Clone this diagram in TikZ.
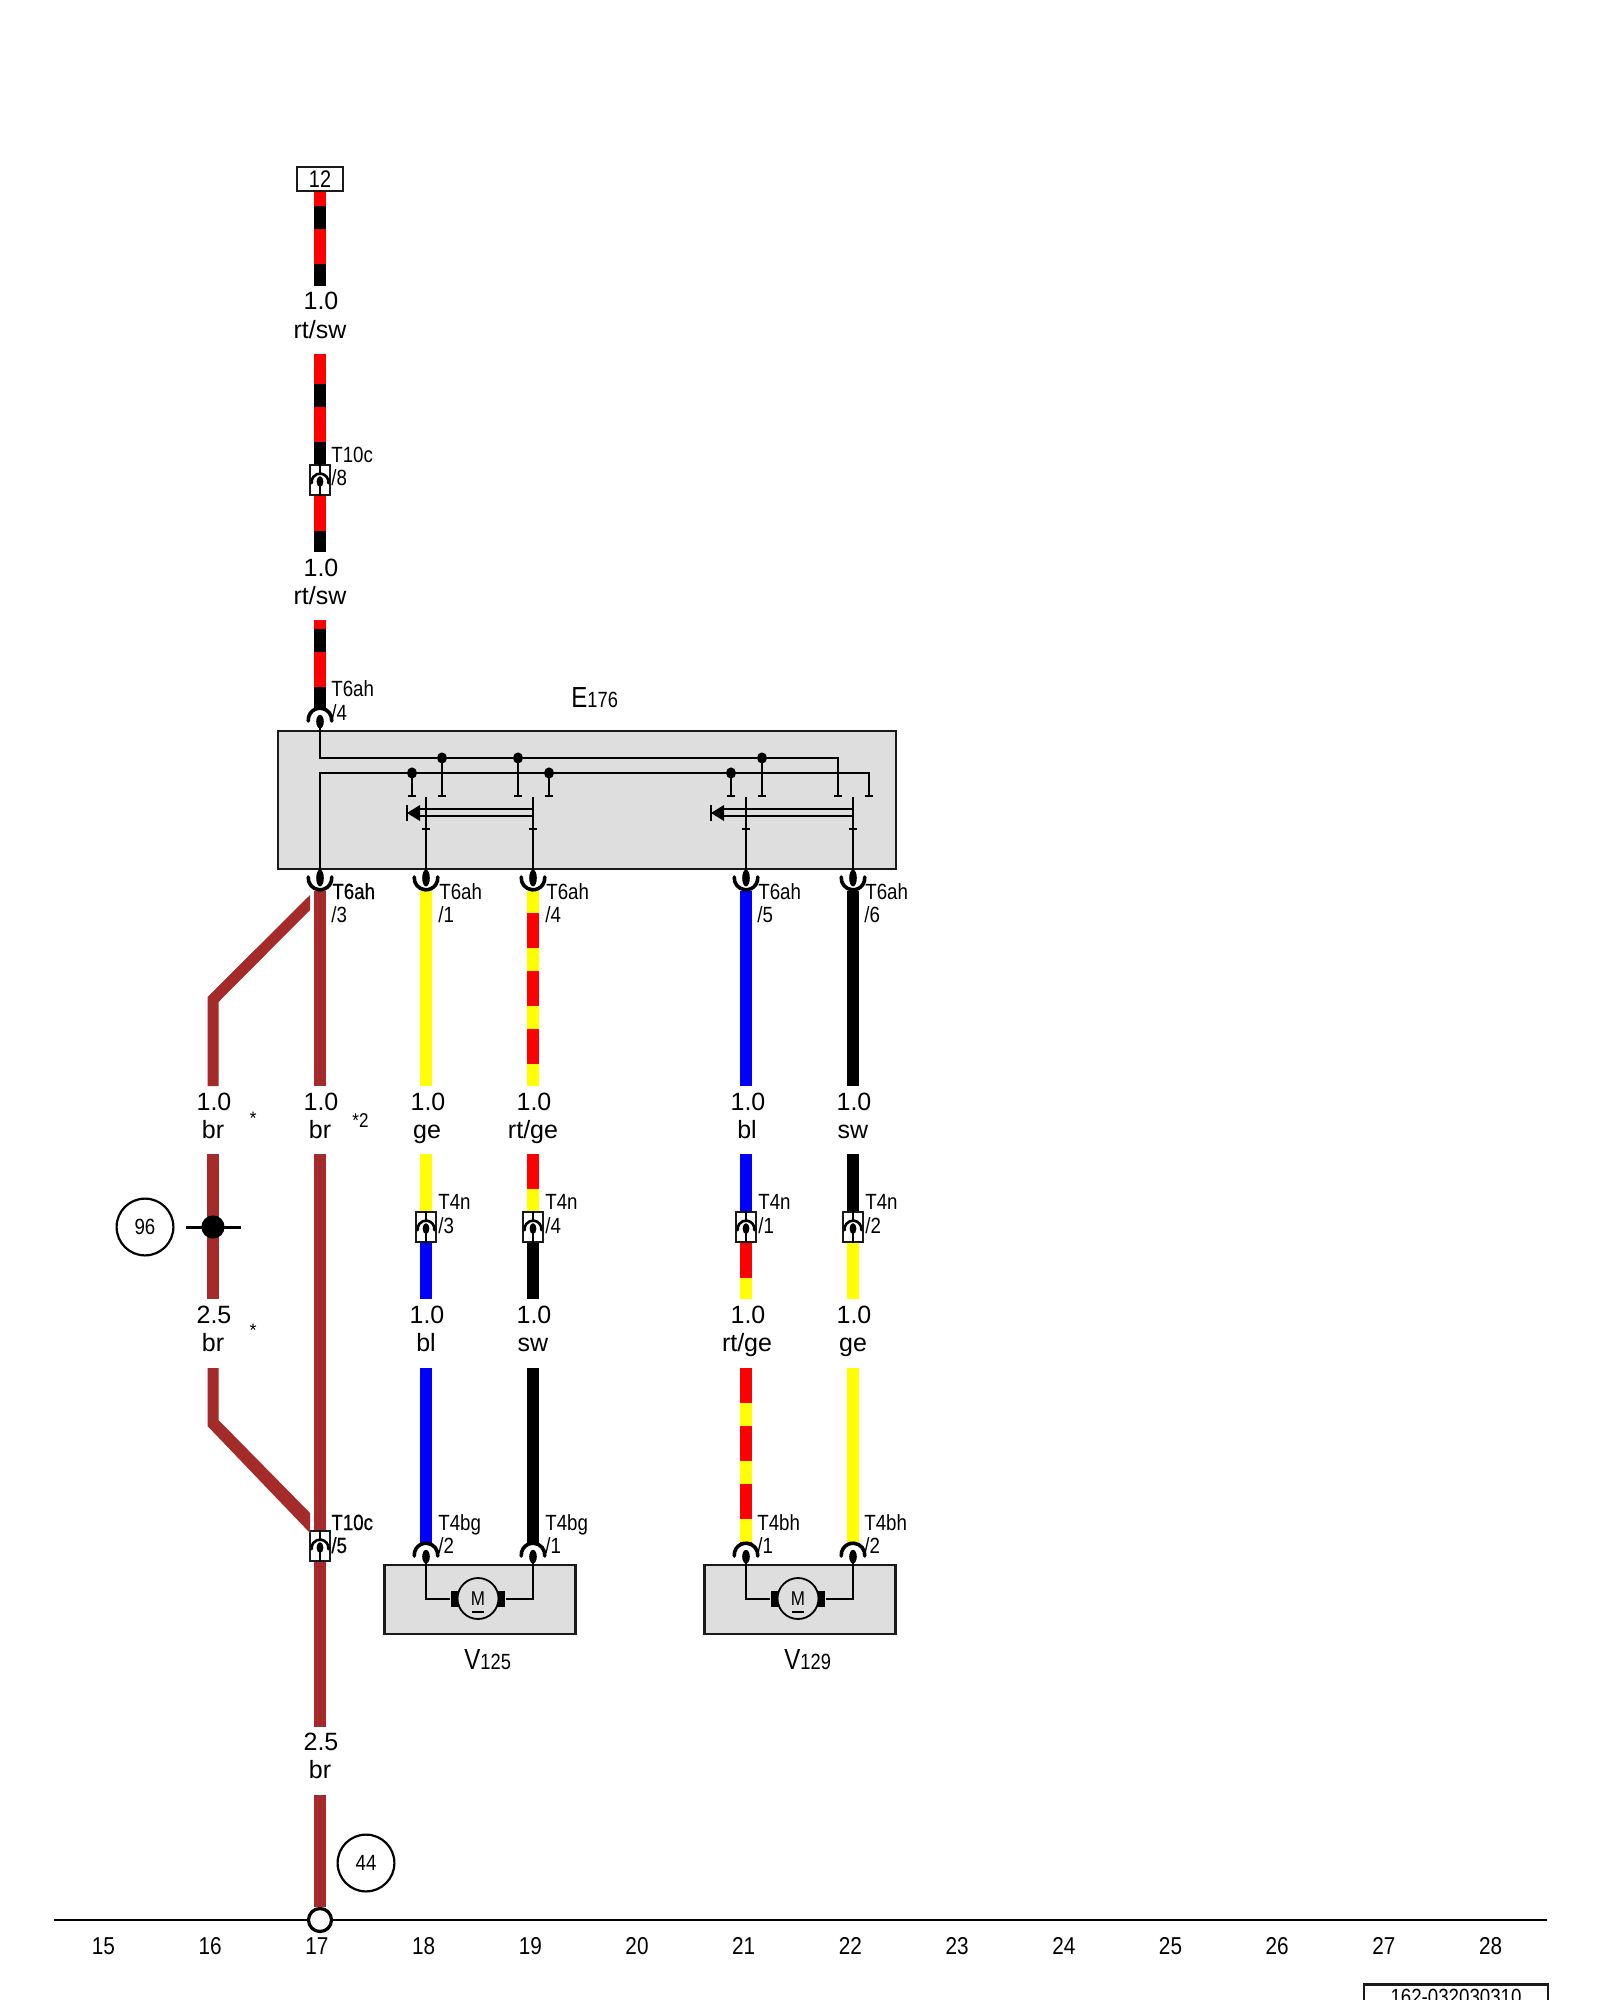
\documentclass[tikz,border=0pt]{standalone}
\usepackage{fontspec}
\setmainfont{Liberation Sans}
\newfontfamily\wirefont{Liberation Sans}
\newfontfamily\tagfont[FakeStretch=0.85]{Liberation Sans}
\newfontfamily\tagboldfont[FakeStretch=0.85,FakeBold=0.6]{Liberation Sans}
\newfontfamily\compfont[FakeStretch=0.83]{Liberation Sans}
\newcommand\fs[1]{\fontsize{#1}{#1}\selectfont}
\definecolor{wbr}{HTML}{A52A2A}
\definecolor{wrt}{HTML}{FF0000}
\definecolor{wge}{HTML}{FFFF00}
\definecolor{wbl}{HTML}{0000FF}
\definecolor{boxg}{HTML}{DEDEDE}
\definecolor{ink}{HTML}{1A1A1A}
\tikzset{
  wire/.style={line width=5.6pt,line cap=butt},
  inner/.style={line width=1pt,draw=black},
  wlabel/.style={anchor=base,inner sep=0pt,font=\wirefont\fs{12.5}},
  tag/.style={anchor=base west,inner sep=0pt,font=\tagfont\fs{11}},
  tagb/.style={anchor=base west,inner sep=0pt,font=\tagboldfont\fs{11}},
  tick/.style={anchor=base,inner sep=0pt,font=\tagfont\fs{12.2}},
  comp/.style={anchor=base west,inner sep=0pt},
  ecu/.style={draw=ink,line width=1.2pt,fill=boxg,inner sep=0pt,rectangle},
  plugbox/.style={draw=ink,line width=.9pt,fill=white,inner sep=0pt,rectangle,minimum width=10pt,minimum height=15pt},
  ref/.style={circle,draw=black,line width=1.1pt,minimum size=28.4pt,inner sep=0pt,font=\tagfont\fs{11}},
  motor/.style={circle,draw=black,line width=.9pt,fill=boxg,minimum size=20.5pt,inner sep=0pt},
  brush/.style={fill=black,inner sep=0pt,rectangle,minimum width=4.4pt,minimum height=8.4pt},
}
\newcommand\stripewire[7]{% base, on colour, on, off, phase, from, to
  \draw[wire,#1] (#6) -- (#7);
  \draw[wire,#2,dash pattern=on #3pt off #4pt,dash phase=#5pt] (#6) -- (#7);}
\newcommand\plain[3]{\draw[wire,#1] (#2) -- (#3);}
\newcommand\plugtop[1]{%
  \draw[line width=1.8pt,line cap=round] ([shift={(-5:5.9pt)}]#1) arc[start angle=-5,end angle=185,radius=5.9pt];
  \fill ([yshift=-.8pt]#1) ellipse[x radius=1.9pt,y radius=3.4pt];}
\newcommand\plugcup[1]{%
  \draw[line width=1.8pt,line cap=round] ([shift={(175:5.9pt)}]#1) arc[start angle=175,end angle=365,radius=5.9pt];
  \fill (#1) ellipse[x radius=1.9pt,y radius=4.2pt];}
\newcommand\pluginline[1]{%
  \draw[line width=1pt] (#1.north) -- ([yshift=3.2pt]#1.center);
  \draw[line width=1pt] ([yshift=-1pt]#1.center) -- (#1.south);
  \draw[line width=1.3pt,line cap=round] ([shift={(-8:4.2pt)},yshift=-1pt]#1.center) arc[start angle=-8,end angle=188,radius=4.2pt];
  \fill ([yshift=-.8pt]#1.center) ellipse[x radius=1.7pt,y radius=2.7pt];}
\newcommand\stub[2]{% x, rail y
  \fill (#1,#2) ellipse[x radius=2.5pt,y radius=2.8pt];
  \draw[inner] (#1,#2) -- (#1,796);
  \draw[inner] (#1-4,796) -- (#1+4,796);}
\begin{document}
\begin{tikzpicture}[x=0.5pt,y=-0.5pt]
\path[use as bounding box,fill=white] (0,0) rectangle (1600,2000);

% column coordinates
\foreach \n/\x in {a/320,b/426,c/533,d/746,e/853}{
  \coordinate (cup\n) at (\x,878);
  \coordinate (t\n-a) at (\x,891);
  \coordinate (t\n-b) at (\x,1086);
  \coordinate (m\n-a) at (\x,1154);
  \coordinate (m\n-b) at (\x,1299);
  \coordinate (l\n-a) at (\x,1368);
  \coordinate (l\n-b) at (\x,1544);
  \coordinate (top\n) at (\x,1555);
}

% E176
\node[ecu,minimum width=309pt,minimum height=69pt] (E) at (587,800) {};
\node[comp] (Etxt) at (571,707) {\compfont\fs{14.5}E\fs{11}176};

% inline plugs
\node[plugbox] (p12) at (320,480) {};
\node[plugbox] (p13) at (320,1546) {};
\foreach \n/\x in {b/426,c/533,d/746,e/853}{\node[plugbox] (pl\n) at (\x,1227) {};}

% connector 12
\node[draw=ink,line width=1pt,fill=white,inner sep=0pt,minimum width=23pt,minimum height=12pt,font=\compfont\fs{12}] (box12) at (320,179) {12};

% top rt/sw wire
\coordinate (w1b) at (320,286);
\coordinate (w2a) at (320,354);
\coordinate (w3b) at (320,552);
\coordinate (w4a) at (320,620);
\coordinate (w4b) at (320,710);
\coordinate (cupT) at (320,720);
\stripewire{wrt}{black}{11.5}{17.5}{22}{box12.south}{w1b}
\stripewire{wrt}{black}{11.5}{17.5}{14}{w2a}{p12.north}
\stripewire{wrt}{black}{11.5}{17.5}{11.5}{p12.south}{w3b}
\stripewire{wrt}{black}{11.5}{17.5}{24.5}{w4a}{w4b}

% brown branch
\coordinate (b1) at (207.5,1086); \coordinate (b2) at (207.5,997);
\coordinate (b3) at (310,895);    \coordinate (b4) at (310,910);
\coordinate (b5) at (218.5,1002); \coordinate (b6) at (218.5,1086);
\fill[wbr] (b1) -- (b2) -- (b3) -- (b4) -- (b5) -- (b6) -- cycle;
\coordinate (b7) at (207.5,1368); \coordinate (b8) at (207.5,1426);
\coordinate (b9) at (310,1533);   \coordinate (b10) at (310,1513);
\coordinate (b11) at (218.5,1420);\coordinate (b12) at (218.5,1368);
\fill[wbr] (b7) -- (b8) -- (b9) -- (b10) -- (b11) -- (b12) -- cycle;
\coordinate (s1a) at (213,1154);
\coordinate (s1b) at (213,1299);
\plain{wbr}{s1a}{s1b}

% brown main wire
\plain{wbr}{ta-a}{ta-b}
\plain{wbr}{ma-a}{p13.north}
\coordinate (g1) at (320,1727);
\coordinate (g2) at (320,1795);
\plain{wbr}{p13.south}{g1}

% col 18
\plain{wge}{tb-a}{tb-b}
\plain{wge}{mb-a}{plb.north}
\plain{wbl}{plb.south}{mb-b}
\plain{wbl}{lb-a}{lb-b}
% col 19
\stripewire{wge}{wrt}{17.5}{11.5}{18}{tc-a}{tc-b}
\stripewire{wge}{wrt}{17.5}{11.5}{0}{mc-a}{plc.north}
\plain{black}{plc.south}{mc-b}
\plain{black}{lc-a}{lc-b}
% col 21
\plain{wbl}{td-a}{td-b}
\plain{wbl}{md-a}{pld.north}
\stripewire{wge}{wrt}{17.5}{11.5}{0}{pld.south}{md-b}
\stripewire{wge}{wrt}{17.5}{11.5}{0}{ld-a}{ld-b}
% col 22
\plain{black}{te-a}{te-b}
\plain{black}{me-a}{ple.north}
\plain{wge}{ple.south}{me-b}
\plain{wge}{le-a}{le-b}

% plugs
\plugtop{cupT}
\foreach \n in {a,b,c,d,e}{\plugcup{cup\n}}
\foreach \n in {b,c,d,e}{\plugtop{top\n}}
\pluginline{p12}
\pluginline{p13}
\foreach \n in {b,c,d,e}{\pluginline{pl\n}}

% inside E176
\coordinate (r1s) at (320,758); \coordinate (r1e) at (838,758); \coordinate (r1d) at (838,796);
\coordinate (r2s) at (320,773); \coordinate (r2e) at (869,773); \coordinate (r2d) at (869,796);
\draw[inner] (cupT) -- (r1s) -- (r1e) -- (r1d);
\draw[inner] (cupa) -- (r2s) -- (r2e) -- (r2d);
\draw[inner] (834,796) -- (842,796);
\draw[inner] (865,796) -- (873,796);
\stub{442}{758}\stub{518}{758}\stub{762}{758}
\stub{412}{773}\stub{549}{773}\stub{731}{773}
\foreach \x/\y/\tipx/\n in {426/533/407/b,746/853/711/d}{
  \draw[inner] (\x,797) -- (\x,878);
  \draw[inner] (\y,797) -- (\y,878);
  \draw[inner] (\x-4,829) -- (\x+4,829);
  \draw[inner] (\y-4,829) -- (\y+4,829);
  \draw[inner] (\y,809) -- (\tipx+10,809);
  \draw[inner] (\y,816) -- (\tipx+10,816);
  \fill (\tipx,813) -- (\tipx+13,805) -- (\tipx+13,821) -- cycle;
  \draw[inner] (\tipx,805) -- (\tipx,821);
}

% motors
\foreach \bx/\mx/\lw/\rw/\nm/\wl/\wr in {480/478/426/533/A/b/c,800/798/746/853/B/d/e}{
  \node[ecu,minimum width=95.5pt,minimum height=34.5pt] (mbox\nm) at (\bx,1599.5) {};
  \node[brush] (bl\nm) at (\mx-23,1599) {};
  \node[brush] (br\nm) at (\mx+23,1599) {};
  \node[motor] (mot\nm) at (\mx,1598.5) {};
  \draw[inner] (top\wl) |- (bl\nm.west);
  \draw[inner] (top\wr) |- (br\nm.east);
  \node[anchor=base,inner sep=0pt,font=\tagfont\fs{10}] (mt\nm) at (\mx,1605) {M};
  \draw[line width=.9pt] (\mx-6,1612) -- (\mx+6,1612);
}
\node[comp] (V1) at (464,1669) {\compfont\fs{14.5}V\fs{11}125};
\node[comp] (V2) at (784,1669) {\compfont\fs{14.5}V\fs{11}129};

% splice 96
\coordinate (sp) at (213,1227);
\node[ref] (r96) at (145,1227) {96};
\coordinate (spl) at (186,1227);
\coordinate (spr) at (241,1227);
\draw[line width=1.5pt] (spl) -- (spr);
\fill (sp) circle[radius=5.8pt];

% axis and ground
\coordinate (axl) at (54,1920);
\coordinate (axr) at (1547,1920);
\draw[line width=1.3pt] (axl) -- (axr);
\node[circle,draw=black,line width=1.6pt,fill=white,minimum size=11.5pt,inner sep=0pt] (gnd) at (320,1920) {};
\plain{wbr}{g2}{gnd.north}
\node[ref] (r44) at (366,1863) {44};
\foreach \t [count=\k from 0] in {15,...,28}{
  \node[tick] (n\t) at ({103.5+106.7*\k},1954) {\t};
}

% footer
\draw[line width=1.2pt,draw=ink] (1364,2020) -- (1364,1984.5) -- (1548,1984.5) -- (1548,2020);
\node[anchor=base,inner sep=0pt,font=\tagfont\fs{11}] (ftr) at (1456,2004) {162-032030310};

% wire labels
\node[wlabel] (l1a) at (321,310) {1.0};  \node[wlabel] (l1b) at (320,338.5) {rt/sw};
\node[wlabel] (l2a) at (321,576) {1.0};  \node[wlabel] (l2b) at (320,604.5) {rt/sw};
\foreach \x/\t/\m in {214/br/a,321/br/b,428/ge/c,534/rt\slash ge/d,748/bl/e,854/sw/f}{
  \node[wlabel] (ma\m) at (\x,1110) {1.0};
  \node[wlabel] (mw\m) at (\x-1,1138.5) {\t};
}
\foreach \x/\n/\t/\m in {214/2.5/br/a,427/1.0/bl/b,534/1.0/sw/c,748/1.0/rt\slash ge/d,854/1.0/ge/e}{
  \node[wlabel] (la\m) at (\x,1323) {\n};
  \node[wlabel] (lw\m) at (\x-1,1351.5) {\t};
}
\node[wlabel] (ba) at (321,1750) {2.5};
\node[wlabel] (bb) at (320,1778.5) {br};
\node[anchor=base,inner sep=0pt,font=\wirefont\fs{9}] (st1) at (253,1124) {*};
\node[anchor=base west,inner sep=0pt,font=\tagfont\fs{10}] (st2) at (352,1127) {*2};
\node[anchor=base,inner sep=0pt,font=\wirefont\fs{9}] (st3) at (253,1336) {*};

% connector tags
\node[tag] (tg1) at (331,463) {T10c};  \node[tag] (tg2) at (331,486) {/8};
\node[tag] (tg3) at (331,696) {T6ah};  \node[tag] (tg4) at (331,720) {/4};
\node[tagb] (tg5) at (332,899) {T6ah}; \node[tag] (tg6) at (331,922) {/3};
\node[tag] (tg7) at (439,899) {T6ah};  \node[tag] (tg8) at (438,922) {/1};
\node[tag] (tg9) at (546,899) {T6ah};  \node[tag] (tg10) at (545,922) {/4};
\node[tag] (tg11) at (758,899) {T6ah}; \node[tag] (tg12) at (757,922) {/5};
\node[tag] (tg13) at (865,899) {T6ah}; \node[tag] (tg14) at (864,922) {/6};
\node[tag] (tg15) at (438,1209) {T4n}; \node[tag] (tg16) at (438,1233) {/3};
\node[tag] (tg17) at (545,1209) {T4n}; \node[tag] (tg18) at (545,1233) {/4};
\node[tag] (tg19) at (758,1209) {T4n}; \node[tag] (tg20) at (758,1233) {/1};
\node[tag] (tg21) at (865,1209) {T4n}; \node[tag] (tg22) at (865,1233) {/2};
\node[tagb] (tg23) at (331,1530) {T10c}; \node[tagb] (tg24) at (331,1553) {/5};
\node[tag] (tg25) at (438,1530) {T4bg}; \node[tag] (tg26) at (438,1553) {/2};
\node[tag] (tg27) at (545,1530) {T4bg}; \node[tag] (tg28) at (545,1553) {/1};
\node[tag] (tg29) at (757,1530) {T4bh}; \node[tag] (tg30) at (757,1553) {/1};
\node[tag] (tg31) at (864,1530) {T4bh}; \node[tag] (tg32) at (864,1553) {/2};
\end{tikzpicture}
\end{document}
